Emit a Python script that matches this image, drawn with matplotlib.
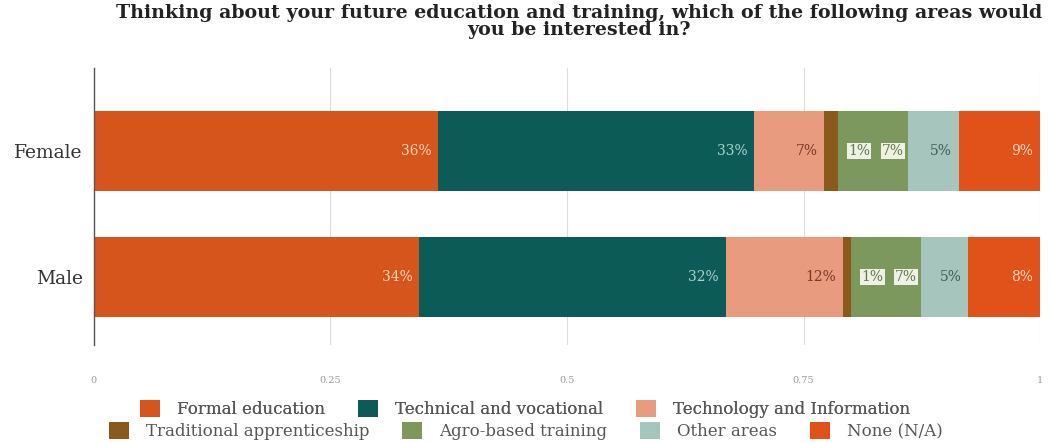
import matplotlib.pyplot as plt
from matplotlib.patches import Patch

groups = ["Male", "Female"]
areas = ["Formal education", "Technical and vocational", "Technology and Information",
         "Traditional apprenticeship", "Agro-based training", "Other areas", "None (N/A)"]
female = [0.364, 0.334, 0.074, 0.014, 0.074, 0.054, 0.086]
male = [0.344, 0.324, 0.124, 0.008, 0.074, 0.050, 0.076]
xticks = [0, 0.25, 0.5, 0.75, 1]
xticklabels = ["0", "0.25", "0.5", "0.75", "1"]

colors = ["#d6551d", "#0d5b57", "#e99b80", "#8a5a1c", "#7c985c", "#a6c6bd", "#e0521a"]
text_colors = ["#f6d6b8", "#a9d3cc", "#7a3a22", "#3d5a2a", "#f4f6ee", "#3f5f55", "#f8dcc8"]

plt.rcParams["font.family"] = ["DejaVu Serif"]

fig = plt.figure(figsize=(10.54, 4.43), dpi=100)
ax = fig.add_axes([0.089, 0.221, 0.898, 0.626])

data = [male, female]
for yi, vals in enumerate(data):
    left = 0
    for k, v in enumerate(vals):
        ax.barh(yi, v, left=left, height=0.635, color=colors[k], zorder=2)
        right = left + v
        label = f"{round(v * 100):.0f}%"
        if k == 3:
            # tiny apprenticeship slice: label sits left of the agro label
            xr = right + vals[4]
            ax.annotate(label, (xr, yi), xytext=(-27, 0), textcoords="offset points",
                        ha="right", va="center", fontsize=10, color="#5f7a48",
                        bbox=dict(boxstyle="square,pad=0.08", fc="#eef1e4", ec="none"),
                        zorder=4)
        elif k == 4:
            ax.annotate(label, (right, yi), xytext=(-3, 0), textcoords="offset points",
                        ha="right", va="center", fontsize=10, color="#5f7a48",
                        bbox=dict(boxstyle="square,pad=0.08", fc="#eef1e4", ec="none"),
                        zorder=4)
        else:
            ax.annotate(label, (right, yi), xytext=(-5, 0), textcoords="offset points",
                        ha="right", va="center", fontsize=10, color=text_colors[k],
                        zorder=4)
        left = right

ax.set_xlim(0, 1)
ax.set_ylim(-0.54, 1.66)
ax.set_yticks([0, 1])
ax.set_yticklabels(groups, fontsize=13.5, color="#333333")
ax.set_xticks(xticks)
ax.set_xticklabels(xticklabels, fontsize=7, color="#999999")
ax.tick_params(axis="x", length=0, pad=22)
ax.tick_params(axis="y", length=0, pad=8)
ax.grid(axis="x", color="#dddddd", linewidth=0.8, zorder=0)
for s in ["top", "right", "bottom"]:
    ax.spines[s].set_visible(False)
ax.spines["left"].set_color("#555555")
ax.spines["left"].set_linewidth(1.0)

fig.text(0.549, 0.97, "Thinking about your future education and training, which of the following areas would",
         ha="center", va="center", fontsize=13.7, fontweight="bold", color="#222222")
fig.text(0.549, 0.932, "you be interested in?",
         ha="center", va="center", fontsize=13.7, fontweight="bold", color="#222222")

handles = [Patch(facecolor=c, edgecolor="none") for c in colors]
leg1 = fig.legend(handles[:3], areas[:3], ncol=3, loc="center", bbox_to_anchor=(0.498, 0.077),
                  frameon=False, fontsize=12, handlelength=1.2, handleheight=1.2,
                  columnspacing=2.0, handletextpad=1.0, labelcolor="#555555")
fig.add_artist(leg1)
fig.legend(handles[3:], areas[3:], ncol=4, loc="center", bbox_to_anchor=(0.499, 0.027),
           frameon=False, fontsize=12, handlelength=1.2, handleheight=1.2,
           columnspacing=2.0, handletextpad=1.0, labelcolor="#555555")

fig.savefig("out.png", dpi=100)
